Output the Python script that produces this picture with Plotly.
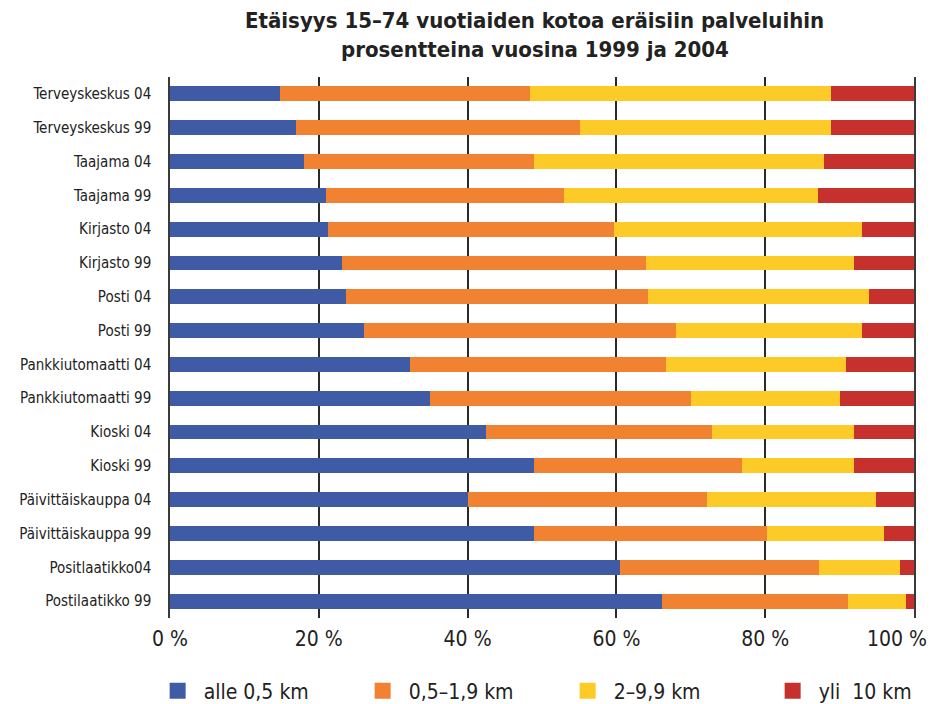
import plotly.graph_objects as go

# Rows from top to bottom, as in the original
places = ['Terveyskeskus 04', 'Terveyskeskus 99', 'Taajama 04', 'Taajama 99',
          'Kirjasto 04', 'Kirjasto 99', 'Posti 04', 'Posti 99',
          'Pankkiutomaatti 04', 'Pankkiutomaatti 99', 'Kioski 04', 'Kioski 99',
          'Päivittäiskauppa 04', 'Päivittäiskauppa 99', 'Positlaatikko04', 'Postilaatikko 99']

alle_05 = [14.8, 17.0, 18.0, 21.0, 21.3, 23.1, 23.7, 26.1,
           32.3, 35.0, 42.5, 48.9, 40.1, 48.9, 60.5, 66.1]
km_05_19 = [33.6, 38.1, 30.9, 32.0, 38.4, 40.9, 40.5, 41.9,
            34.3, 35.0, 30.3, 28.0, 32.1, 31.3, 26.7, 25.0]
km_2_99 = [40.5, 33.8, 39.0, 34.1, 33.3, 27.9, 29.8, 25.0,
           24.2, 20.0, 19.1, 15.0, 22.7, 15.7, 10.9, 7.8]
yli_10 = [11.1, 11.1, 12.1, 12.9, 7.0, 8.1, 6.0, 7.0,
          9.2, 10.0, 8.1, 8.1, 5.1, 4.1, 1.9, 1.1]

x_ticks = [0, 20, 40, 60, 80, 100]
x_labels = ['0 %', '20 %', '40 %', '60 %', '80 %', '100 %']

series = [('alle 0,5 km', alle_05, '#3F5BA6'),
          ('0,5–1,9 km', km_05_19, '#F08232'),
          ('2–9,9 km', km_2_99, '#FCCB28'),
          ('yli\u00a0 10 km', yli_10, '#C6312D')]

font = 'DejaVu Sans Condensed, DejaVu Sans, sans-serif'
ink = '#222222'

fig = go.Figure()
for i, (name, vals, col) in enumerate(series):
    fig.add_trace(go.Bar(y=places, x=vals, orientation='h', name=name,
                         marker=dict(color=col, line=dict(width=0)),
                         width=0.44, showlegend=False))
    # legend swatch (first one also keeps the overlay axis alive)
    fig.add_trace(go.Scatter(x=[None], y=[None], mode='markers', name='\u00a0' + name,
                             xaxis='x2' if i == 0 else 'x',
                             marker=dict(symbol='square', size=17, color=col)))

tick_font = dict(size=21, family=font, color=ink)

# page body adds an 8px offset, so the figure is a bit smaller than the window
fig.update_layout(
    barmode='stack',
    width=920, height=696,
    margin=dict(l=162, r=14, t=69, b=86, autoexpand=False),
    paper_bgcolor='white', plot_bgcolor='white',
    font=dict(family=font, color=ink),
    legend=dict(orientation='h', x=-0.0166, xanchor='left', y=-0.135, yanchor='middle',
                traceorder='normal',
                font=dict(size=21, family=font, color=ink),
                entrywidth=160, entrywidthmode='pixels', itemsizing='trace'),
    xaxis=dict(range=[0, 100], tickmode='array', tickvals=x_ticks[:-1], ticktext=x_labels[:-1],
               showgrid=True, gridcolor='#2a2a2a', gridwidth=1.5,
               zeroline=False, showline=False, ticks='',
               ticklabelstandoff=6, tickfont=tick_font),
    # the 100 % label sits a little left of its gridline, as in the original
    xaxis2=dict(range=[0, 100], overlaying='x', side='bottom', anchor='y',
                tickmode='array', tickvals=x_ticks[-1:], ticktext=x_labels[-1:],
                showgrid=False, zeroline=False, showline=False, ticks='',
                ticklabelstandoff=6, ticklabelshift=-17, ticklabeloverflow='allow',
                tickfont=tick_font),
)
fig.add_annotation(text='<b>Etäisyys 15–74 vuotiaiden kotoa eräisiin palveluihin</b>',
                   xref='paper', yref='paper', x=0.49, y=1 + 57 / 541, xanchor='center', yanchor='middle',
                   showarrow=False, font=dict(size=22, family=font, color=ink))
fig.add_annotation(text='<b>prosentteina vuosina 1999 ja 2004</b>',
                   xref='paper', yref='paper', x=0.49, y=1 + 28 / 541, xanchor='center', yanchor='middle',
                   showarrow=False, font=dict(size=22, family=font, color=ink))

fig.update_yaxes(autorange='reversed', showgrid=False, showline=True, mirror=True,
                 linecolor='#3a3a3a', linewidth=1.5, ticks='',
                 ticklabelstandoff=14, automargin=False,
                 tickfont=dict(size=15, family=font, color=ink))

fig.write_html('out.html')
